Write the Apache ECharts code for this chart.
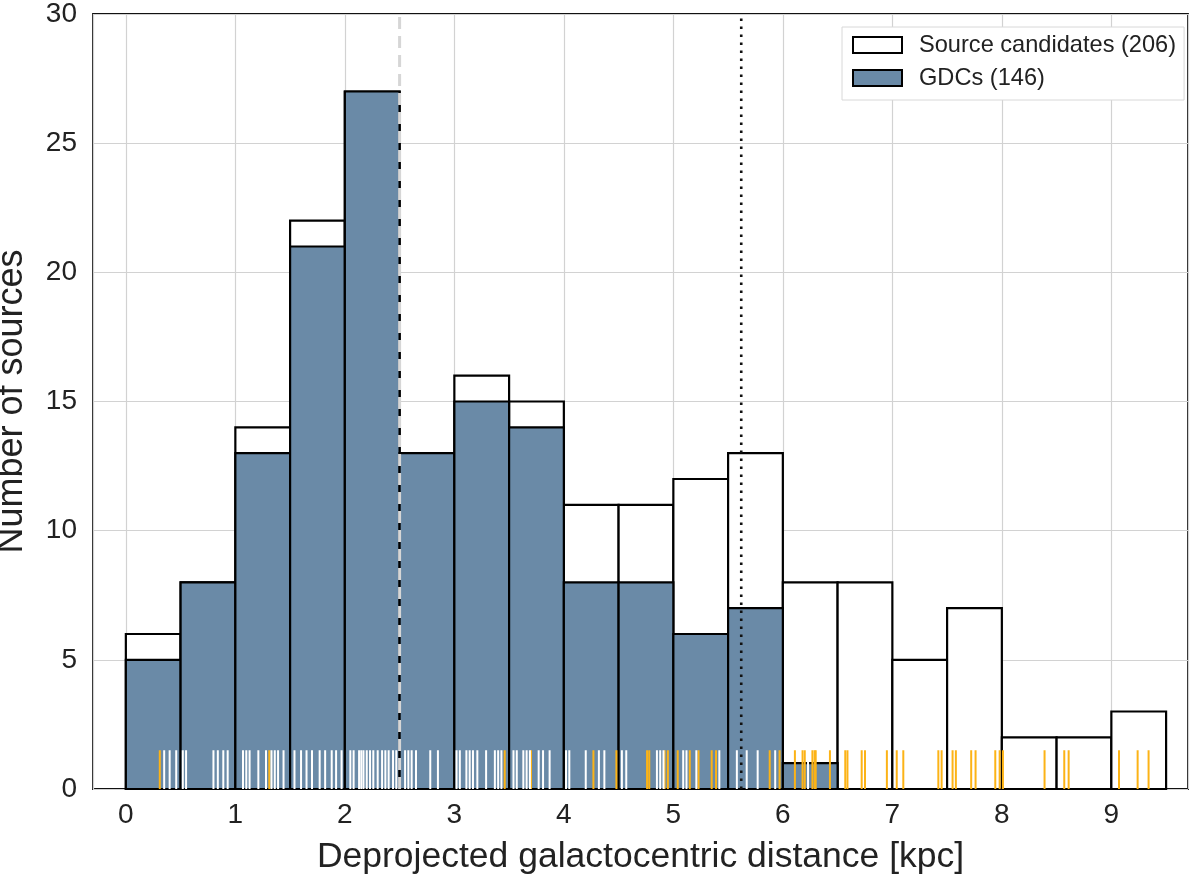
<!DOCTYPE html>
<html><head><meta charset="utf-8">
<script src="https://cdn.jsdelivr.net/npm/echarts@6/dist/echarts.min.js"></script>
<style>html,body{margin:0;padding:0;background:#fff}#c{width:1200px;height:877px}</style>
</head><body><div id="c"></div>
<script>
// ---- data ----
const binEdges = [0,0.5,1,1.5,2,2.5,3,3.5,4,4.5,5,5.5,6,6.5,7,7.5,8,8.5,9,9.5];
const candidateCounts = [6,8,14,22,27,13,16,15,11,11,12,13,8,8,5,7,2,2,3];
const gdcCounts = [5,8,13,21,27,13,15,14,8,8,6,7,1,0,0,0,0,0,0];
const gdcRug = [0.35,0.40,0.46,0.52,0.55,0.80,0.84,0.89,0.93,1.07,1.10,1.13,1.21,1.28,1.33,1.36,1.39,1.44,
  1.54,1.60,1.65,1.70,1.77,1.82,1.88,1.92,1.97,2.05,2.08,2.13,2.15,2.17,2.20,2.23,2.26,2.30,2.34,2.37,2.40,2.44,2.47,
  2.55,2.58,2.61,2.65,2.78,2.85,3.02,3.05,3.11,3.14,3.17,3.21,3.29,3.37,3.40,3.43,3.54,3.57,3.63,3.66,3.69,3.77,3.81,3.87,
  4.02,4.05,4.20,4.32,4.37,4.53,4.57,4.85,4.88,4.91,5.09,5.12,5.21,5.42,5.58,5.67,5.77,5.93,6.23];
const otherRug = [0.31,1.31,3.46,3.70,4.27,4.48,4.76,4.78,4.92,4.95,5.04,5.15,5.23,5.35,5.39,5.88,5.97,
  6.11,6.18,6.20,6.27,6.29,6.30,6.43,6.57,6.59,6.72,6.75,6.95,7.04,7.10,7.42,7.45,7.55,7.58,7.72,7.76,
  7.94,7.98,8.01,8.39,8.57,8.61,9.07,9.24,9.34];
const dashedLineX = [2.5];
const dottedLineX = [5.62];
const seriesNames = ['Source candidates (206)', 'GDCs (146)'];
const xLabel = 'Deprojected galactocentric distance [kpc]';
const yLabel = 'Number of sources';

// ---- build ----
const FONT = '"Liberation Sans", Arial, Helvetica, sans-serif';
const TXT = '#222';
const GDC_COLOR = '#6a8aa7';
const RUG_ORANGE = '#fcb316';
const RUG_H = 1.5;
const Y_MAX = 30;

function barData(counts){
  const out = [];
  counts.forEach((c,i)=>{ if (c>0) out.push([binEdges[i], binEdges[i+1], c]); });
  return out;
}
function barRender(fill){
  return function(params, api){
    const p0 = api.coord([api.value(0), api.value(2)]);
    const p1 = api.coord([api.value(1), 0]);
    return {type:'rect', shape:{x:p0[0], y:p0[1], width:p1[0]-p0[0], height:p1[1]-p0[1]},
      style:{fill:fill, stroke:'#000', lineWidth:2.2}};
  };
}
function rugRender(color){
  return function(params, api){
    const a = api.coord([api.value(0), 0]);
    const b = api.coord([api.value(0), RUG_H]);
    return {type:'line', shape:{x1:a[0], y1:a[1], x2:b[0], y2:b[1]}, style:{stroke:color, lineWidth:2}};
  };
}
function vlineRender(color, width, dash){
  return function(params, api){
    const a = api.coord([api.value(0), 0]);
    const b = api.coord([api.value(0), Y_MAX]);
    return {type:'line', shape:{x1:a[0], y1:a[1], x2:b[0], y2:b[1]}, style:{stroke:color, lineWidth:width, lineDash:dash}};
  };
}

const chart = echarts.init(document.getElementById('c'), null, {renderer:'canvas'});
chart.setOption({
  animation:false,
  backgroundColor:'#fff',
  grid:{left:93, right:12, top:14, bottom:88, containLabel:false, outerBoundsMode:'none',
    show:true, borderColor:'#111', borderWidth:1.8, backgroundColor:'transparent'},
  legend:{
    left:842, top:27, orient:'vertical',
    backgroundColor:'#fff', borderColor:'#d8d8d8', borderWidth:1, borderRadius:0,
    padding:[6,8,10,10], itemWidth:49, itemHeight:16, itemGap:9,
    textStyle:{fontSize:23.6, color:TXT, fontFamily:FONT, lineHeight:24, padding:[0,0,0,12]},
    data:[
      {name:seriesNames[0], icon:'rect', itemStyle:{color:'#fff', borderColor:'#000', borderWidth:2}},
      {name:seriesNames[1], icon:'rect', itemStyle:{color:GDC_COLOR, borderColor:'#000', borderWidth:2}}
    ]
  },
  xAxis:{
    type:'value', min:-0.3, max:9.7, splitNumber:10,
    axisLine:{show:false}, axisTick:{show:false},
    axisLabel:{fontSize:28, color:TXT, fontFamily:FONT, margin:12,
      formatter:function(v){ return Math.abs(v-Math.round(v))<1e-6 ? String(Math.round(v)) : ''; }},
    splitLine:{show:true, lineStyle:{color:'#d2d2d2', width:1.2}},
    name:xLabel, nameLocation:'middle', nameGap:50,
    nameTextStyle:{fontSize:35.5, color:TXT, fontFamily:FONT}
  },
  yAxis:{
    type:'value', min:0, max:Y_MAX, interval:5,
    axisLine:{show:false}, axisTick:{show:false},
    axisLabel:{fontSize:28, color:TXT, fontFamily:FONT, margin:16},
    splitLine:{show:true, lineStyle:{color:'#d2d2d2', width:1.2}},
    name:yLabel, nameLocation:'middle', nameGap:63,
    nameTextStyle:{fontSize:36, color:TXT, fontFamily:FONT}
  },
  series:[
    {name:seriesNames[0], type:'custom', renderItem:barRender('#fff'), data:barData(candidateCounts),
      encode:{x:[0,1], y:2}, itemStyle:{color:'#fff', borderColor:'#000'}, z:2},
    {name:seriesNames[1], type:'custom', renderItem:barRender(GDC_COLOR), data:barData(gdcCounts),
      encode:{x:[0,1], y:2}, itemStyle:{color:GDC_COLOR, borderColor:'#000'}, z:3},
    {name:'rugOther', type:'custom', renderItem:rugRender(RUG_ORANGE), data:otherRug.map(v=>[v]), encode:{x:0}, z:4, silent:true},
    {name:'rugGDC', type:'custom', renderItem:rugRender('#ffffff'), data:gdcRug.map(v=>[v]), encode:{x:0}, z:5, silent:true},
    {name:'dashed', type:'custom', renderItem:vlineRender('#d6d6d6', 3, [12,7]), data:dashedLineX.map(v=>[v]), encode:{x:0}, z:6, silent:true},
    {name:'dotted', type:'custom', renderItem:vlineRender('#111', 2.6, [2.6,5.4]), data:dottedLineX.map(v=>[v]), encode:{x:0}, z:6, silent:true}
  ]
});
</script>
</body></html>
